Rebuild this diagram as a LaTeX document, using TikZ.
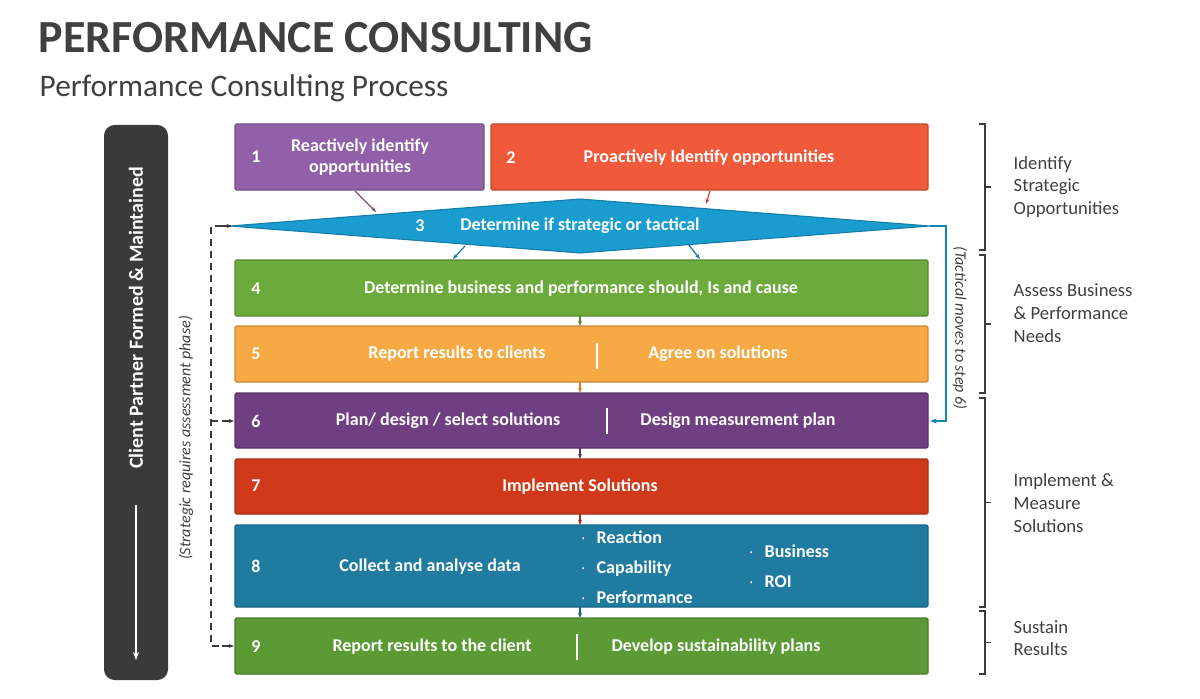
\documentclass[tikz,border=0pt]{standalone}
\usepackage{fontspec}
\setmainfont{Carlito}
\usetikzlibrary{arrows.meta}
\definecolor{cA}{HTML}{9160A8}
\definecolor{cB}{HTML}{F05A3A}
\definecolor{cC}{HTML}{1A9CCF}
\definecolor{cD}{HTML}{6DAA3C}
\definecolor{cE}{HTML}{F7A943}
\definecolor{cF}{HTML}{6F3F82}
\definecolor{cG}{HTML}{D03A1A}
\definecolor{cH}{HTML}{1F7BA0}
\definecolor{cI}{HTML}{5C9A35}
\definecolor{dark}{HTML}{3A3A3A}
\definecolor{txt}{HTML}{404040}
\begin{document}
\begin{tikzpicture}[x=0.75pt,y=-0.75pt,
  stepbox/.style={draw=#1!80!black,fill=#1,line width=0.8pt,rounded corners=1pt},
  wt/.style={text=white,font=\fontsize{13.5}{16}\selectfont\bfseries,align=center},
  small/.style={-{Stealth[length=4pt]},line width=0.9pt},
  brk/.style={draw=dark,line width=0.9pt},
  side/.style={anchor=west,align=left,text=txt,font=\fontsize{14}{17}\selectfont}]
\useasboundingbox (0,0) rectangle (1200,699);
\node[anchor=west,text=txt,font=\fontsize{34.5}{36}\selectfont\bfseries] (title) at (34,38) {PERFORMANCE CONSULTING};
\node[anchor=west,text=txt,font=\fontsize{23.5}{25}\selectfont] (sub) at (35,88) {Performance Consulting Process};
% left bar
\fill[dark,rounded corners=8pt] (104,125) rectangle (168,680);
\node[rotate=90,wt,font=\fontsize{15}{17}\selectfont\bfseries] (cp) at (136,318) {Client Partner Formed \& Maintained};
\draw[white,line width=1pt,-{Stealth[length=6pt]}] (136,505) -- (136,660);
% boxes
\draw[stepbox=cA] (235,124) rectangle (484,190);
\draw[stepbox=cB] (491,124) rectangle (928,190);
\draw[draw=cC!80!black,fill=cC,line width=0.8pt] (230,226) -- (580,199) -- (930,226) -- (580,253) -- cycle;
\draw[stepbox=cD] (235,260) rectangle (928,316);
\draw[stepbox=cE] (235,326) rectangle (928,382);
\draw[stepbox=cF] (235,393) rectangle (928,448);
\draw[stepbox=cG] (235,459) rectangle (928,514);
\draw[stepbox=cH] (235,525) rectangle (928,607);
\draw[stepbox=cI] (235,618) rectangle (928,674);
% numbers and texts
\node[wt] (n1) at (256,157) {1};
\node[wt] (t1) at (360,157) {Reactively identify\\opportunities};
\node[wt] (n2) at (511,158) {2};
\node[wt] (t2) at (709,158) {Proactively Identify opportunities};
\node[wt] (n3) at (420,226) {3};
\node[wt] (t3) at (580,226) {Determine if strategic or tactical};
\node[wt] (n4) at (256,289) {4};
\node[wt] (t4) at (581,289) {Determine business and performance should, Is and cause};
\node[wt] (n5) at (256,354) {5};
\node[wt] (t5a) at (457,354) {Report results to clients};
\node[wt] (t5b) at (718,354) {Agree on solutions};
\draw[white,line width=1.2pt] (597,343) -- (597,369);
\node[wt] (n6) at (256,421) {6};
\node[wt] (t6a) at (448,421) {Plan/ design / select solutions};
\node[wt] (t6b) at (738,421) {Design measurement plan};
\draw[white,line width=1.2pt] (607,408) -- (607,434);
\node[wt] (n7) at (256,486) {7};
\node[wt] (t7) at (580,487) {Implement Solutions};
\node[wt] (n8) at (256,566) {8};
\node[wt] (t8) at (430,567) {Collect and analyse data};
\node[wt,anchor=west,align=left,font=\fontsize{13.5}{22.5}\selectfont\bfseries] (t8b) at (576,567) {$\cdot$\hspace{8pt}Reaction\\$\cdot$\hspace{8pt}Capability\\$\cdot$\hspace{8pt}Performance};
\node[wt,anchor=west,align=left,font=\fontsize{13.5}{22.5}\selectfont\bfseries] (t8c) at (744,566) {$\cdot$\hspace{8pt}Business\\$\cdot$\hspace{8pt}ROI};
\node[wt] (n9) at (256,647) {9};
\node[wt] (t9a) at (432,647) {Report results to the client};
\node[wt] (t9b) at (716,647) {Develop sustainability plans};
\draw[white,line width=1.2pt] (577,634) -- (577,660);
% small arrows
\draw[small,cA!80!black] (355,191) -- (376,212);
\draw[small,cB!80!black] (710,191) -- (706,204);
\draw[small,cC!80!black] (465,246) -- (453,259);
\draw[small,cC!80!black] (688,244) -- (700,259);
\draw[small,cD!80!black] (580,316) -- (580,326);
\draw[small,cE!80!black] (580,382) -- (580,393);
\draw[small,cF!80!black] (580,448) -- (580,459);
\draw[small,cG!80!black] (580,514) -- (580,525);
\draw[small,cH!80!black] (580,607) -- (580,618);
% tactical
\draw[cC!85!black,line width=1.2pt,-{Stealth[length=5pt]}] (930,226) -- (946,226) -- (946,421) -- (930,421);
\node[rotate=-90,text=txt,font=\fontsize{12}{14}\selectfont\itshape] (tac) at (960,328) {(Tactical moves to step 6)};
% strategic
\draw[dark,line width=1.2pt,dash pattern=on 5pt off 4pt] (222,226) -- (211,226) -- (211,646) -- (222,646);
\draw[dark,line width=1.2pt,dash pattern=on 5pt off 4pt] (211,421) -- (222,421);
\draw[dark,line width=1pt,-{Stealth[length=4pt]}] (222,226) -- (232,226);
\draw[dark,line width=1pt,-{Stealth[length=4pt]}] (222,421) -- (234,421);
\draw[dark,line width=1pt,-{Stealth[length=4pt]}] (222,646) -- (234,646);
\node[rotate=90,text=txt,font=\fontsize{12}{14}\selectfont\itshape] (str) at (186,438) {(Strategic requires assessment phase)};
% brackets
\foreach \a/\b in {124/250,255/393,398/607,611/674}{
  \draw[brk] (979,\a) -- (985,\a) -- (985,\b) -- (979,\b);
  \draw[brk] (985,{(\a+\b)/2}) -- (991,{(\a+\b)/2});
}
\node[side] (l1) at (1009,187) {Identify\\Strategic\\Opportunities};
\node[side] (l2) at (1009,313) {Assess Business\\\& Performance\\Needs};
\node[side] (l3) at (1009,503) {Implement \&\\Measure\\Solutions};
\node[side] (l4) at (1009,638) {Sustain\\Results};
\end{tikzpicture}
\end{document}
